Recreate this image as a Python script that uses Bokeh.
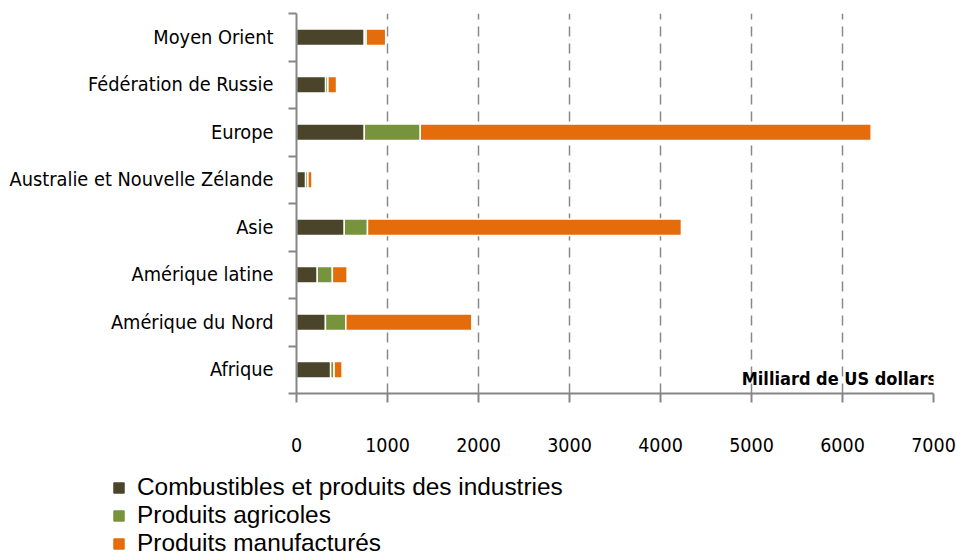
from bokeh.plotting import figure
from bokeh.layouts import column
from bokeh.models import (ColumnDataSource, FixedTicker, Legend, LegendItem, Label, Range1d)
from bokeh.embed import file_html
from bokeh.resources import INLINE

# Data (bottom to top)
categories = ["Afrique", "Amérique du Nord", "Amérique latine", "Asie",
              "Australie et Nouvelle Zélande", "Europe", "Fédération de Russie", "Moyen Orient"]
combustibles = [375, 318, 228, 525, 100, 745, 320, 745]
agricoles = [38, 224, 166, 255, 25, 615, 25, 20]
manufactures = [88, 1385, 162, 3450, 45, 4955, 95, 215]
series_names = ["Combustibles et produits des industries", "Produits agricoles", "Produits manufacturés"]
colors = ["#4A452A", "#77933C", "#E46C0A"]
x_ticks = [0, 1000, 2000, 3000, 4000, 5000, 6000, 7000]
unit_label = "Milliard de US dollars"

ypos = [i + 0.5 for i in range(len(categories))]
source = ColumnDataSource(dict(y=ypos, c=combustibles, a=agricoles, m=manufactures))

p = figure(width=957, height=462, output_backend="svg", toolbar_location=None,
           x_range=Range1d(0, 7000), y_range=Range1d(0, len(categories)),
           min_border_left=296, min_border_right=24, min_border_top=13, min_border_bottom=69)
p.frame_align = False
p.outline_line_color = None
p.background_fill_color = "white"

renderers = p.hbar_stack(["c", "a", "m"], y="y", height=0.35, color=colors,
                         line_color="white", line_width=1.5, source=source)

font = "DejaVu Sans Condensed, Liberation Sans"
axis_color = "#868686"

# x axis
p.xaxis.ticker = FixedTicker(ticks=x_ticks)
p.xaxis.axis_line_color = axis_color
p.xaxis.axis_line_width = 2
p.xaxis.major_tick_line_color = axis_color
p.xaxis.major_tick_line_width = 2
p.xaxis.major_tick_out = 9
p.xaxis.major_tick_in = 0
p.xaxis.minor_tick_line_color = None
p.xaxis.major_label_standoff = 35
p.xaxis.major_label_text_font = font
p.xaxis.major_label_text_font_size = "19.5px"
p.xaxis.major_label_text_color = "black"

# y axis: labels at centres, ticks at boundaries
p.yaxis.ticker = FixedTicker(ticks=ypos, minor_ticks=list(range(len(categories) + 1)))
p.yaxis.major_label_overrides = {y: c for y, c in zip(ypos, categories)}
p.yaxis.axis_line_color = axis_color
p.yaxis.axis_line_width = 2
p.yaxis.major_tick_line_color = None
p.yaxis.minor_tick_line_color = axis_color
p.yaxis.minor_tick_line_width = 2
p.yaxis.minor_tick_out = 8
p.yaxis.minor_tick_in = 0
p.yaxis.major_label_standoff = 15
p.yaxis.major_label_text_font = font
p.yaxis.major_label_text_font_size = "19.8px"
p.yaxis.major_label_text_color = "black"

# grid
p.ygrid.grid_line_color = None
p.xgrid.ticker = FixedTicker(ticks=x_ticks[1:])
p.xgrid.grid_line_color = "#888888"
p.xgrid.grid_line_width = 1.5
p.xgrid.grid_line_dash = "10 7"

# unit label
p.add_layout(Label(x=7040, y=0.32, text=unit_label, text_align="right", text_baseline="middle",
                   text_font=font, text_font_style="bold", text_font_size="18px", text_color="black"))

# legend figure
pl = figure(width=957, height=93, output_backend="svg", toolbar_location=None,
            x_range=Range1d(0, 1), y_range=Range1d(0, 1),
            min_border_left=0, min_border_right=0, min_border_top=0, min_border_bottom=0)
pl.frame_align = False
pl.axis.visible = False
pl.grid.visible = False
pl.outline_line_color = None
legend_renderers = [pl.hbar(y=[0.5], right=[1], height=0.5, color=c, visible=False) for c in colors]
legend = Legend(items=[LegendItem(label=n, renderers=[r]) for n, r in zip(series_names, legend_renderers)],
                location=(112, -2), orientation="vertical",
                label_text_font="Liberation Sans", label_text_font_size="24.4px",
                label_text_color="black",
                glyph_width=13, glyph_height=13, label_standoff=12, spacing=0,
                padding=0, margin=0, border_line_color=None, background_fill_alpha=0)
pl.add_layout(legend, "center")

layout = column(p, pl, spacing=0)
open("out.html", "w").write(file_html(layout, INLINE))
